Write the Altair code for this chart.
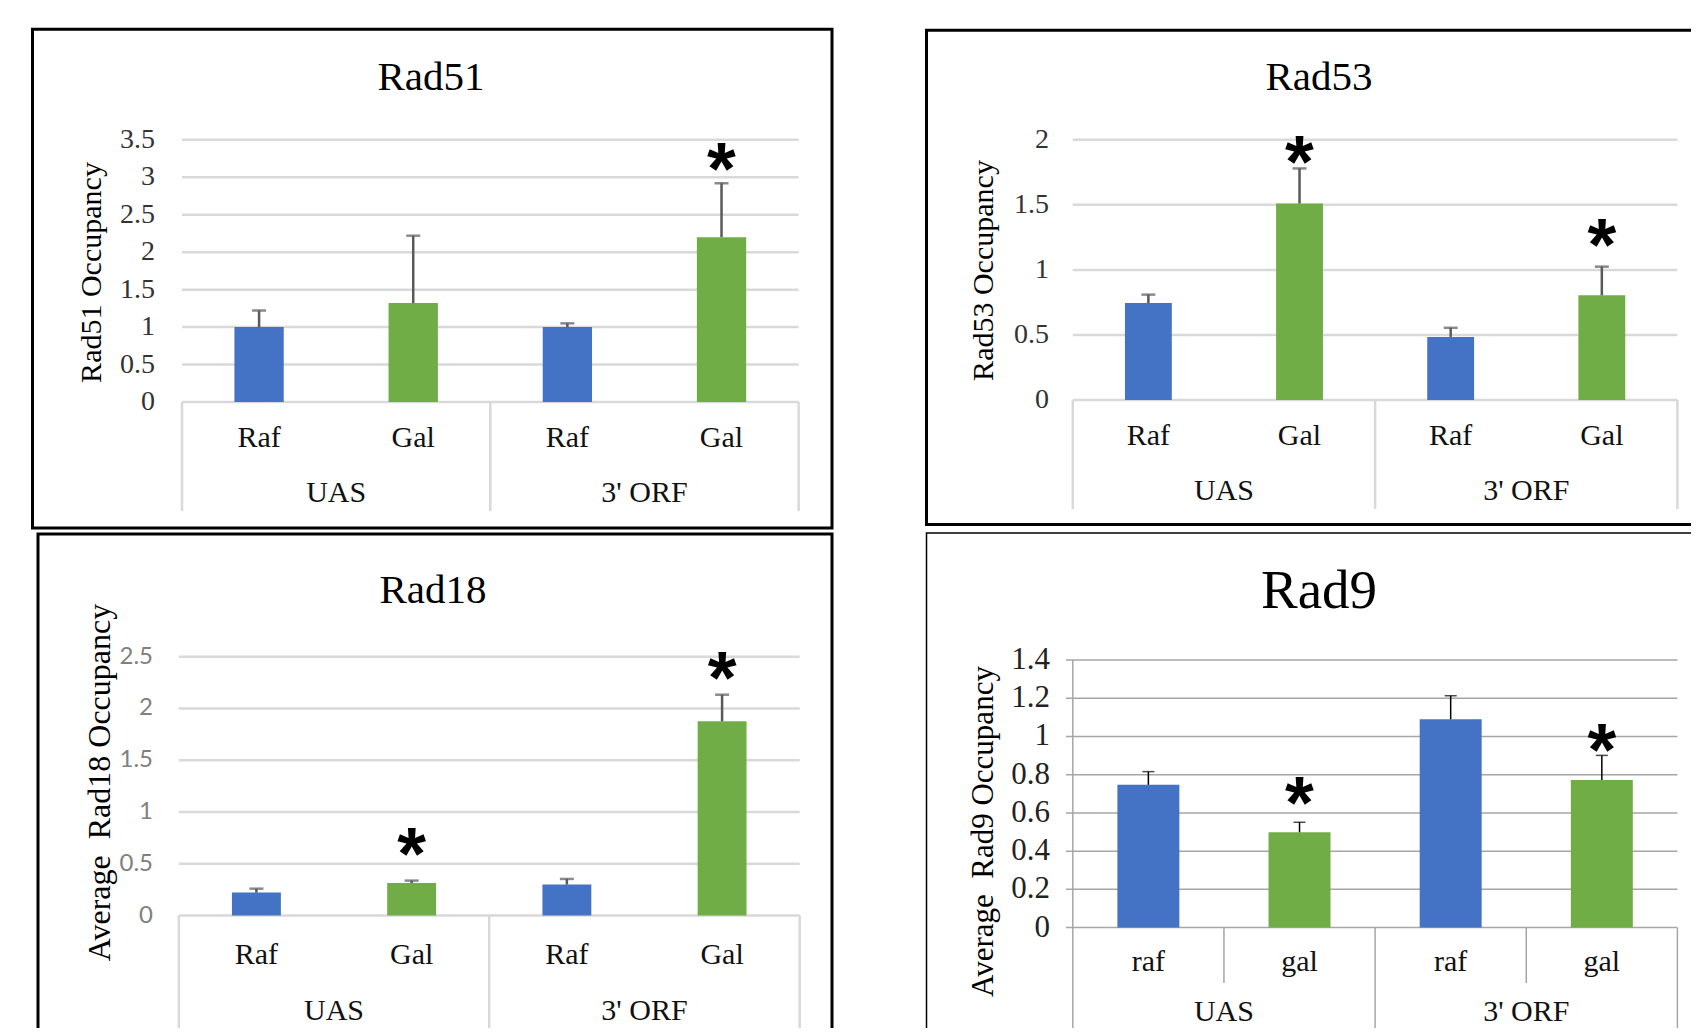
import altair as alt
import pandas as pd

BLUE = "#4472C4"
GREEN = "#70AD47"
SERIF = "Liberation Serif"

CATEGORY_KEYS = ["UAS|Raf", "UAS|Gal", "ORF|Raf", "ORF|Gal"]
GROUPS = ["UAS", "UAS", "3' ORF", "3' ORF"]
CONDITIONS = ["Raf", "Gal", "Raf", "Gal"]
LABELS_UPPER = ["Raf", "Gal", "Raf", "Gal"]
LABELS_LOWER = ["raf", "gal", "raf", "gal"]

RAD51_MEAN = [1.00, 1.32, 1.00, 2.20]
RAD51_ERR = [0.22, 0.90, 0.05, 0.72]
RAD51_STAR = [None, None, None, 3.26]
RAD51_TICKS = [0, 0.5, 1, 1.5, 2, 2.5, 3, 3.5]
RAD51_TICK_LABELS = ["0", "0.5", "1", "1.5", "2", "2.5", "3", "3.5"]

RAD53_MEAN = [0.745, 1.51, 0.485, 0.805]
RAD53_ERR = [0.065, 0.27, 0.07, 0.22]
RAD53_STAR = [None, 1.915, None, 1.28]
RAD53_TICKS = [0, 0.5, 1, 1.5, 2]
RAD53_TICK_LABELS = ["0", "0.5", "1", "1.5", "2"]

RAD18_MEAN = [0.222, 0.315, 0.30, 1.876]
RAD18_ERR = [0.038, 0.023, 0.054, 0.257]
RAD18_STAR = [None, 0.70, None, 2.40]
RAD18_TICKS = [0, 0.5, 1, 1.5, 2, 2.5]
RAD18_TICK_LABELS = ["0", "0.5", "1", "1.5", "2", "2.5"]

RAD9_MEAN = [0.747, 0.499, 1.09, 0.772]
RAD9_ERR = [0.069, 0.052, 0.123, 0.129]
RAD9_STAR = [None, 0.712, None, 0.99]
RAD9_TICKS = [0, 0.2, 0.4, 0.6, 0.8, 1.0, 1.2, 1.4]
RAD9_TICK_LABELS = ["0", "0.2", "0.4", "0.6", "0.8", "1", "1.2", "1.4"]


def panel(title, ytitle, mean, err, star, labels, ticks, tick_labels, g):
    df = pd.DataFrame({
        "key": CATEGORY_KEYS, "cond": CONDITIONS, "label": labels, "group": GROUPS,
        "mean": mean, "hi": [m + e for m, e in zip(mean, err)], "star": star,
    })
    tdf = pd.DataFrame({"v": ticks, "lab": tick_labels})
    one = pd.DataFrame({"a": [0]})
    xs = alt.Scale(domain=CATEGORY_KEYS, range=[g["x0"], g["x1"]], paddingInner=0, paddingOuter=0)
    ys = alt.Scale(domain=[0, g["ymax"]], range=[g["y0"], g["y1"]], nice=False, zero=True)

    def X(**kw):
        return alt.X("key:N", scale=xs, axis=None, **kw)

    def Y(f):
        return alt.Y(f, scale=ys, axis=None)

    layers = []
    layers.append(alt.Chart(one).mark_rect(fillOpacity=0, stroke="black", strokeWidth=g["box_w"]).encode(
        x=alt.value(g["bx0"]), x2=alt.value(g["bx1"]), y=alt.value(g["by0"]), y2=alt.value(g["by1"])))
    layers.append(alt.Chart(tdf).mark_rule(color=g["grid_c"], strokeWidth=g["grid_w"]).encode(
        y=Y("v:Q"), x=alt.value(g["gx0"]), x2=alt.value(g["x1"])))
    layers.append(alt.Chart(tdf).mark_text(align="right", baseline="middle", font=g["tick_font"],
                                           fontSize=g["tick_fs"], color=g["tick_c"]).encode(
        y=Y("v:Q"), x=alt.value(g["tick_x"]), text="lab:N"))
    if g.get("axis_line"):
        layers.append(alt.Chart(one).mark_rule(color=g["grid_c"], strokeWidth=g["grid_w"]).encode(
            x=alt.value(g["x0"]), y=alt.value(g["y1"]), y2=alt.value(g["y0"])))
    # group separators
    sep = alt.Chart(df).mark_rule(color=g["grid_c"], strokeWidth=g["grid_w"])
    layers.append(sep.transform_filter("datum.cond == 'Raf'").encode(
        x=X(bandPosition=0), y=alt.value(g["y0"]), y2=alt.value(g["sep_y"])))
    layers.append(sep.transform_filter("datum.key == 'ORF|Gal'").encode(
        x=X(bandPosition=1), y=alt.value(g["y0"]), y2=alt.value(g["sep_y"])))
    if g.get("sub_sep"):
        layers.append(sep.transform_filter("datum.cond == 'Gal'").encode(
            x=X(bandPosition=0), y=alt.value(g["y0"]), y2=alt.value(g["sub_sep"])))
    # bars
    layers.append(alt.Chart(df).mark_bar(width=alt.RelativeBandSize(g["bar_f"])).encode(
        x=X(), y=alt.Y("mean:Q", scale=ys, axis=None, stack=None),
        color=alt.Color("cond:N", scale=alt.Scale(domain=["Raf", "Gal"], range=[BLUE, GREEN]), legend=None)))
    layers.append(alt.Chart(df).mark_rule(color=g["err_c"], strokeWidth=g["err_w"]).encode(
        x=X(), y=Y("mean:Q"), y2="hi:Q"))
    layers.append(alt.Chart(df).mark_tick(color=g["err_c"], thickness=g["err_w"], size=g["cap"]).encode(
        x=X(), y=Y("hi:Q")))
    fs = 74
    layers.append(alt.Chart(df).transform_filter("isValid(datum.star)").mark_text(
        text="*", font="Liberation Sans", fontWeight="bold", fontSize=fs, baseline="alphabetic",
        dy=0.49 * fs, color="black").encode(x=X(), y=Y("star:Q")))
    layers.append(alt.Chart(df).mark_text(font=SERIF, fontSize=g["cat_fs"], color="#111111",
                                          baseline="middle").encode(
        x=X(), y=alt.value(g["cat_y"]), text="label:N"))
    layers.append(alt.Chart(df).transform_filter("datum.cond == 'Gal'").mark_text(
        font=SERIF, fontSize=g["cat_fs"], color="#111111", baseline="middle").encode(
        x=X(bandPosition=0), y=alt.value(g["grp_y"]), text="group:N"))
    layers.append(alt.Chart(pd.DataFrame({"t": [title]})).mark_text(
        font=SERIF, fontSize=g["title_fs"], color="black", baseline="middle").encode(
        x=alt.value(g["title_x"]), y=alt.value(g["title_y"]), text="t:N"))
    layers.append(alt.Chart(pd.DataFrame({"t": [ytitle]})).mark_text(
        font=SERIF, fontSize=g["yt_fs"], color="black", baseline="middle", angle=270).encode(
        x=alt.value(g["yt_x"]), y=alt.value(g["yt_y"]), text="t:N"))
    return alt.layer(*layers)


COMMON = dict(grid_c="#d9d9d9", grid_w=2.5, err_c="#595959", err_w=2.5, cap=14,
              tick_font=SERIF, tick_fs=28, tick_c="#333333", cat_fs=30, title_fs=41, yt_fs=30, box_w=3)

G1 = dict(COMMON, bx0=24.5, bx1=824, by0=21.3, by1=520, x0=174, x1=790.6, gx0=174, y0=394, y1=131.8,
          ymax=3.5, title_x=423, title_y=70, tick_x=147, yt_x=84, yt_y=264.5, cat_y=429.8, grp_y=485,
          sep_y=503, bar_f=0.32)
G2 = dict(COMMON, bx0=918.5, bx1=1720, by0=22.3, by1=516.5, x0=1064.8, x1=1669.4, gx0=1064.8, y0=392,
          y1=131.8, ymax=2, title_x=1311, title_y=70, tick_x=1041, yt_x=976, yt_y=262.5, cat_y=427.6,
          grp_y=483, sep_y=501, bar_f=0.31)
G3 = dict(COMMON, bx0=30, bx1=824, by0=526, by1=1060, x0=170.8, x1=791.7, gx0=170.8, y0=907.6, y1=648.7,
          ymax=2.5, title_x=425, title_y=582.6, tick_x=145, tick_font="Lato", tick_fs=24, tick_c="#808080",
          yt_x=92, yt_y=774.5, yt_fs=32, cat_y=946.7, grp_y=1003, sep_y=1060, bar_f=0.315)
G4 = dict(COMMON, bx0=918.5, bx1=1720, by0=525, by1=1060, box_w=1.5, x0=1064.8, x1=1669.4, gx0=1058,
          y0=919.6, y1=652, ymax=1.4, title_x=1311, title_y=582.6, title_fs=55, tick_x=1042, tick_fs=31,
          tick_c="#222222", yt_x=976, yt_y=823.5, yt_fs=31, cat_y=954, grp_y=1004, sep_y=1060,
          sub_sep=975, bar_f=0.41, grid_c="#a6a6a6", grid_w=1.5, err_c="black", err_w=1.5, cap=12,
          axis_line=True)

NB = "\u00a0"
p1 = panel("Rad51", "Rad51 Occupancy", RAD51_MEAN, RAD51_ERR, RAD51_STAR, LABELS_UPPER,
           RAD51_TICKS, RAD51_TICK_LABELS, G1)
p2 = panel("Rad53", "Rad53 Occupancy", RAD53_MEAN, RAD53_ERR, RAD53_STAR, LABELS_UPPER,
           RAD53_TICKS, RAD53_TICK_LABELS, G2)
p3 = panel("Rad18", "Average" + NB + NB + "Rad18 Occupancy", RAD18_MEAN, RAD18_ERR, RAD18_STAR,
           LABELS_UPPER, RAD18_TICKS, RAD18_TICK_LABELS, G3)
p4 = panel("Rad9", "Average" + NB + NB + "Rad9 Occupancy", RAD9_MEAN, RAD9_ERR, RAD9_STAR,
           LABELS_LOWER, RAD9_TICKS, RAD9_TICK_LABELS, G4)

chart = alt.layer(p1, p2, p3, p4).resolve_scale(
    x="independent", y="independent", color="independent"
).properties(
    width=1683, height=1020, padding=0, autosize=alt.AutoSizeParams(type="none")
).configure_view(stroke=None)

chart.save("out.html", embed_options={"renderer": "svg", "actions": False})
